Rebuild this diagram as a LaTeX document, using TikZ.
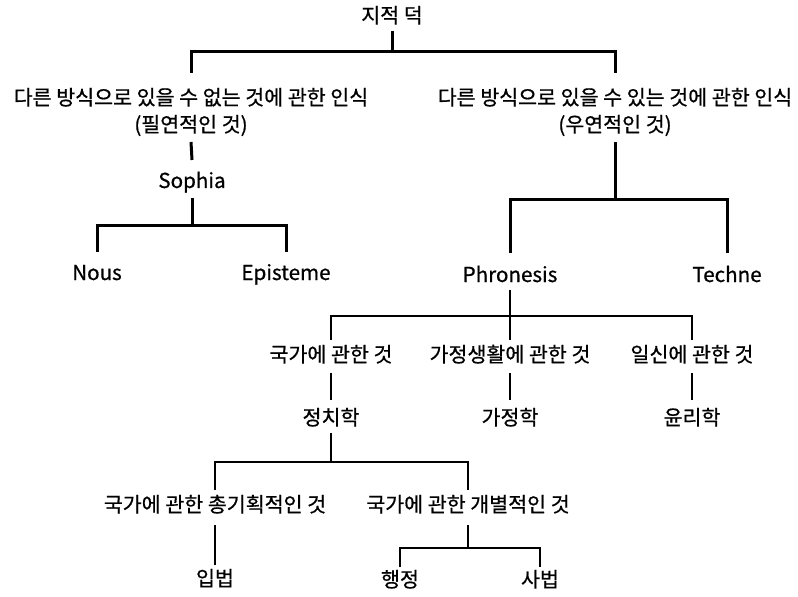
\documentclass[tikz,border=0pt]{standalone}
\usepackage{fontspec}
\setmainfont{Noto Sans CJK KR}[FakeBold=0.7]
\begin{document}
\begin{tikzpicture}[x=1bp,y=-1bp,
  lbl/.style={inner sep=0pt, outer sep=4bp, text height=14bp, text depth=4bp,
    font=\fontsize{20.6bp}{23bp}\selectfont},
  thk/.style={line width=3bp},
  mid/.style={line width=2bp},
  low/.style={line width=2.5bp}]
\useasboundingbox[fill=white] (0,0) rectangle (798,597);
% nodes
\node[lbl] (title) at (392,18) {지적 덕};
\node[lbl] (L1) at (191,100) {다른 방식으로 있을 수 없는 것에 관한 인식};
\node[lbl] (L2) at (191,127) {(필연적인 것)};
\node[lbl] (R1) at (615,100) {다른 방식으로 있을 수 있는 것에 관한 인식};
\node[lbl] (R2) at (615,127) {(우연적인 것)};
\node[lbl] (soph) at (192,183) {Sophia};
\node[lbl] (nous) at (97,275) {Nous};
\node[lbl] (epis) at (286,275) {Episteme};
\node[lbl] (phro) at (510,277) {Phronesis};
\node[lbl] (tech) at (727,277) {Techne};
\node[lbl] (k1) at (331,357) {국가에 관한 것};
\node[lbl] (k2) at (510,357) {가정생활에 관한 것};
\node[lbl] (k3) at (692,357) {일신에 관한 것};
\node[lbl] (h1) at (331,420) {정치학};
\node[lbl] (h2) at (510,420) {가정학};
\node[lbl] (h3) at (692,420) {윤리학};
\node[lbl] (p1) at (215,507) {국가에 관한 총기획적인 것};
\node[lbl] (p2) at (468,507) {국가에 관한 개별적인 것};
\node[lbl] (ip) at (215,581) {입법};
\node[lbl] (hj) at (400,582) {행정};
\node[lbl] (sb) at (540,582) {사법};
% junctions
\coordinate (j0) at (392,52);
\coordinate (jS) at (192,225);
\coordinate (jR) at (615,200);
\coordinate (jP) at (510,316);
\coordinate (jH) at (331,462);
\coordinate (jG) at (468,548);
% connectors
\draw[thk] (title.south) -- (j0);
\draw[thk] ([yshift=14bp]L1.north) |- (j0) -| ([yshift=14bp]R1.north);
\draw[thk] ([yshift=-2bp]L2.south) -- ([yshift=10bp]soph.north);
\draw[thk] ([yshift=-2bp]soph.south) -- (jS);
\draw[thk] ([yshift=10bp]nous.north) |- (jS) -| ([yshift=10bp]epis.north);
\draw[thk] ([yshift=-2bp]R2.south) -- (jR);
\draw[thk] ([yshift=11bp]phro.north) |- (jR) -| ([yshift=11bp]tech.north);
\draw[mid] (phro.south) -- ([yshift=4bp]k2.north);
\draw[mid] ([yshift=4bp]k1.north) |- (jP) -| ([yshift=4bp]k3.north);
\draw[mid] ([yshift=-3bp]k1.south) -- ([yshift=7bp]h1.north);
\draw[mid] ([yshift=-3bp]k2.south) -- ([yshift=7bp]h2.north);
\draw[mid] ([yshift=-3bp]k3.south) -- ([yshift=7bp]h3.north);
\draw[low] (h1.south) -- (jH);
\draw[low] ([yshift=4bp]p1.north) |- (jH) -| ([yshift=4bp]p2.north);
\draw[low] ([yshift=-5bp]p1.south) -- ([yshift=3bp]ip.north);
\draw[low] ([yshift=-5bp]p2.south) -- (jG);
\draw[low] ([yshift=2bp]hj.north) |- (jG) -| ([yshift=2bp]sb.north);
\end{tikzpicture}
\end{document}
